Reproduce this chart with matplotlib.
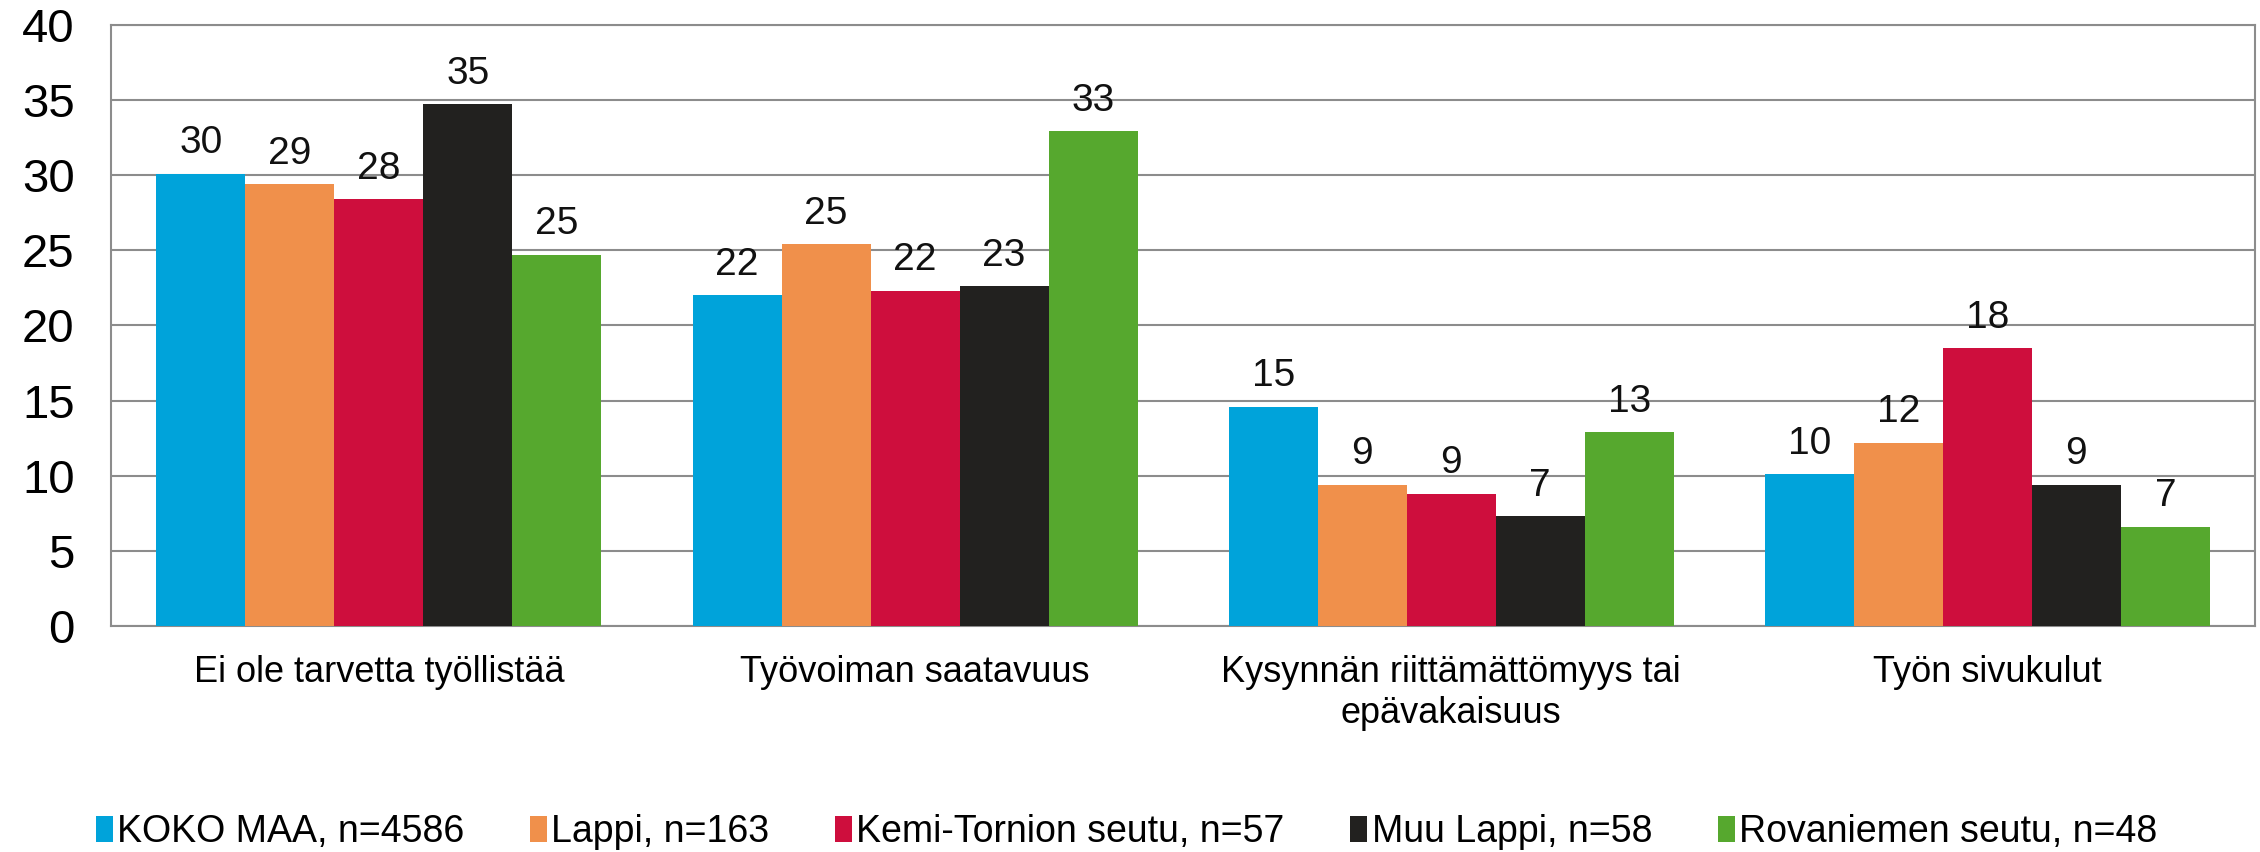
import numpy as np
import matplotlib
matplotlib.use("Agg")
import matplotlib.pyplot as plt

plt.rcParams["font.family"] = ["Liberation Sans", "DejaVu Sans"]

categories = ["Ei ole tarvetta työllistää", "Työvoiman saatavuus",
              "Kysynnän riittämättömyys tai\nepävakaisuus", "Työn sivukulut"]
series_names = ["KOKO MAA, n=4586", "Lappi, n=163", "Kemi-Tornion seutu, n=57",
                "Muu Lappi, n=58", "Rovaniemen seutu, n=48"]
koko_maa = [30.1, 22.0, 14.6, 10.1]
lappi = [29.4, 25.4, 9.4, 12.2]
kemi_tornio = [28.4, 22.3, 8.8, 18.5]
muu_lappi = [34.7, 22.6, 7.3, 9.4]
rovaniemi = [24.7, 32.9, 12.9, 6.6]

COLORS = ["#00A3DA", "#F0904B", "#CE0E3D", "#22211F", "#56A82E"]

fig = plt.figure(figsize=(22.6, 8.52), dpi=100)
ax = fig.add_axes([0.049, 0.265, 0.949, 0.706])

x = np.arange(len(categories))
width = 0.166
all_series = [koko_maa, lappi, kemi_tornio, muu_lappi, rovaniemi]
for i, (vals, name, col) in enumerate(zip(all_series, series_names, COLORS)):
    pos = x + (i - 2) * width
    bars = ax.bar(pos, vals, width, color=col, label=name, zorder=3)
    ax.bar_label(bars, labels=[f"{round(v)}" for v in vals], padding=9,
                 fontsize=28, color="#111111")

ax.set_xlim(-0.5, len(categories) - 0.5)
ax.set_ylim(0, 40)
ax.set_yticks(range(0, 41, 5))
ax.yaxis.grid(True, color="#8C8C8C", linewidth=1.5, zorder=0)
ax.set_xticks(x)
ax.set_xticklabels(categories, fontsize=26)
ax.tick_params(axis="x", length=0, pad=21)
ax.tick_params(axis="y", length=0, pad=26, labelsize=34)
for s in ax.spines.values():
    s.set_color("#8C8C8C")
    s.set_linewidth(1.5)

fig.legend(loc="center", bbox_to_anchor=(0.4985, 0.0235), ncol=5, frameon=False,
           fontsize=27, handlelength=0.45, handleheight=0.7, handletextpad=0.12,
           columnspacing=1.75)

plt.savefig("out.png", dpi=100, facecolor="white")
